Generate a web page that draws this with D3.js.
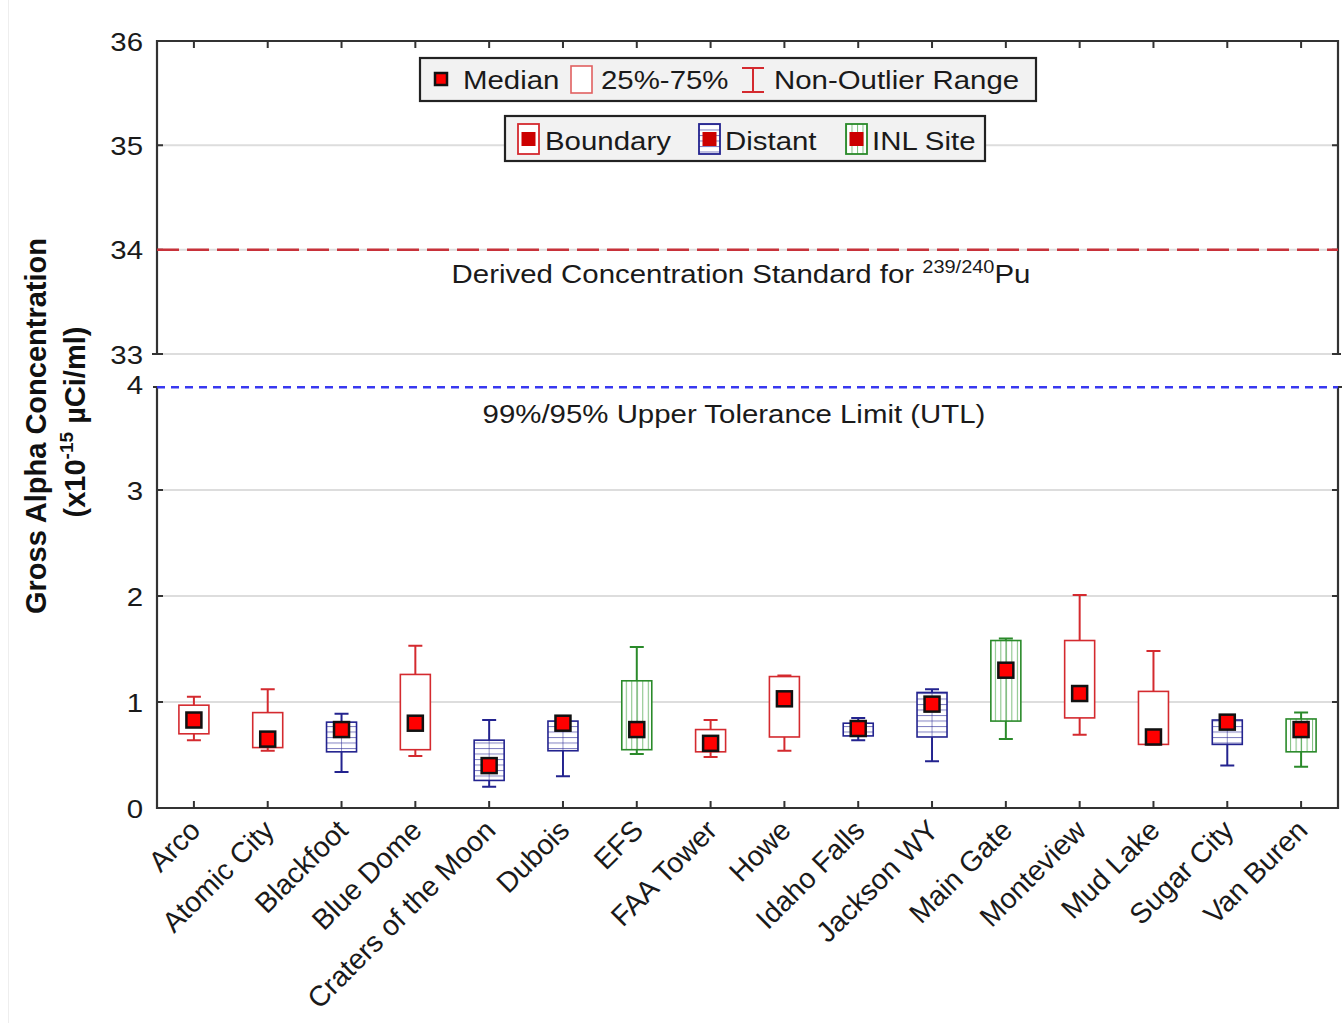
<!DOCTYPE html>
<html>
<head>
<meta charset="utf-8">
<script src="https://cdn.jsdelivr.net/npm/d3@7"></script>
<style>
  body { margin: 0; background: #fff; }
  svg { font-family: "Liberation Sans", Arial, sans-serif; }
</style>
</head>
<body>
<svg id="chart" width="1342" height="1023"></svg>
<script>
// Box plot values
const sites = ['Arco', 'Atomic City', 'Blackfoot', 'Blue Dome', 'Craters of the Moon', 'Dubois', 'EFS',
    'FAA Tower', 'Howe', 'Idaho Falls', 'Jackson WY', 'Main Gate', 'Monteview', 'Mud Lake', 'Sugar City', 'Van Buren'];
const groups = ['Boundary', 'Boundary', 'Distant', 'Boundary', 'Distant', 'Distant', 'INL Site',
    'Boundary', 'Boundary', 'Distant', 'Distant', 'INL Site', 'Boundary', 'Boundary', 'Distant', 'INL Site'];
const whiskerLow  = [0.64, 0.54, 0.34, 0.49, 0.20, 0.30, 0.51, 0.48, 0.54, 0.64, 0.44, 0.65, 0.69, 0.60, 0.40, 0.39];
const q1          = [0.70, 0.57, 0.53, 0.55, 0.26, 0.54, 0.55, 0.53, 0.67, 0.68, 0.67, 0.82, 0.85, 0.60, 0.60, 0.53];
const medians     = [0.83, 0.65, 0.74, 0.80, 0.40, 0.80, 0.74, 0.61, 1.03, 0.75, 0.98, 1.30, 1.08, 0.67, 0.81, 0.74];
const q3          = [0.97, 0.90, 0.81, 1.26, 0.64, 0.82, 1.20, 0.74, 1.24, 0.80, 1.09, 1.58, 1.58, 1.10, 0.83, 0.84];
const whiskerHigh = [1.05, 1.12, 0.89, 1.53, 0.83, 0.82, 1.52, 0.83, 1.25, 0.85, 1.12, 1.60, 2.01, 1.48, 0.83, 0.90];

const upperTicks = [33, 34, 35, 36];
const lowerTicks = [0, 1, 2, 3, 4];
const dcsValue = 34;
const utlValue = 3.97;

const groupNames = ['Boundary', 'Distant', 'INL Site'];
const groupIds = ['boundary', 'distant', 'inl'];
const groupColors = ['#d42a2f', '#23238f', '#2a8a2a'];

const data = sites.map((s, i) => ({
    site: s, group: groups[i],
    lo: whiskerLow[i], q1: q1[i], med: medians[i], q3: q3[i], hi: whiskerHigh[i]
}));

const svg = d3.select('#chart');
const left = 157, right = 1338;
const FS = 26.5, SX = 1.11;   // text looks a bit wide in the source
const color = d3.scaleOrdinal().domain(groupNames).range(groupColors);
const gid = d3.scaleOrdinal().domain(groupNames).range(groupIds);

// hatch patterns for Distant (horizontal) and INL Site (vertical)
const defs = svg.append('defs');
const hp = defs.append('pattern').attr('id', 'hatch-distant')
    .attr('patternUnits', 'userSpaceOnUse').attr('width', 6).attr('height', 5.5);
hp.append('rect').attr('width', 6).attr('height', 5.5).attr('fill', '#fff');
hp.append('line').attr('x1', 0).attr('x2', 6).attr('y1', 0.5).attr('y2', 0.5)
    .attr('stroke', '#7f7fc0').attr('stroke-width', 1);
const vp = defs.append('pattern').attr('id', 'hatch-inl')
    .attr('patternUnits', 'userSpaceOnUse').attr('width', 5.5).attr('height', 6);
vp.append('rect').attr('width', 5.5).attr('height', 6).attr('fill', '#fff');
vp.append('line').attr('y1', 0).attr('y2', 6).attr('x1', 0.5).attr('x2', 0.5)
    .attr('stroke', '#7fbf7f').attr('stroke-width', 1);

function fillFor(g) {
    return g === 'Boundary' ? '#fff' : `url(#hatch-${gid(g)})`;
}

// horizontal text, widened a little
function hText(parent, x, y, anchor, size) {
    return parent.append('text')
        .attr('transform', `translate(${x},${y}) scale(${SX},1)`)
        .attr('text-anchor', anchor).attr('font-size', size || FS).attr('fill', '#1a1a1a');
}

// faint page edge
svg.append('line').attr('x1', 8.5).attr('x2', 8.5).attr('y1', 0).attr('y2', 1023)
    .attr('stroke', '#eeeeee');

const x = d3.scaleBand().domain(sites).range([left, right]).padding(0);
const yTop = d3.scaleLinear().domain([33, 36]).range([354, 41]);
const yBot = d3.scaleLinear().domain([0, 4]).range([808, 384]);

// grid lines
svg.append('g').selectAll('line').data(upperTicks.filter(d => d !== 36)).join('line')
    .attr('x1', left).attr('x2', right).attr('y1', d => yTop(d)).attr('y2', d => yTop(d))
    .attr('stroke', '#dddddd').attr('stroke-width', 2);
svg.append('g').selectAll('line').data(lowerTicks.filter(d => d > 0 && d < 4)).join('line')
    .attr('x1', left).attr('x2', right).attr('y1', d => yBot(d)).attr('y2', d => yBot(d))
    .attr('stroke', '#dddddd').attr('stroke-width', 2);

// axes frames
const axisColor = '#333';
const frame = svg.append('g').attr('stroke', axisColor).attr('stroke-width', 2.2).attr('fill', 'none');
frame.append('path').attr('d', `M${left},${yTop(33)}V${yTop(36)}H${right}V${yTop(33)}`);
frame.append('path').attr('d', `M${left},388V${yBot(0)}H${right}V388`);
// caps at the axis break
frame.append('path').attr('d', `M${left - 5},${yTop(33)}H${left + 6}M${right - 6},${yTop(33)}H${right + 3}`);
frame.append('path').attr('d', `M${left - 4},387H${left + 4}M${right - 4},387H${right + 4}`);

// y ticks (inside)
const tickG = svg.append('g').attr('stroke', axisColor).attr('stroke-width', 2);
tickG.selectAll('.lt').data(upperTicks.slice(1, 3)).join('path')
    .attr('d', d => `M${left},${yTop(d)}h6M${right},${yTop(d)}h-6`);
tickG.selectAll('.lb').data(lowerTicks.slice(1, 4)).join('path')
    .attr('d', d => `M${left},${yBot(d)}h6M${right},${yBot(d)}h-6`);
// category ticks top and bottom
tickG.selectAll('.ct').data(sites).join('path')
    .attr('d', d => {
        const cx = x(d) + x.bandwidth() / 2;
        return `M${cx},${yTop(36)}v7M${cx},${yBot(0)}v-7`;
    });

// y tick labels
const lab = svg.append('g');
upperTicks.forEach(d => hText(lab, 143, yTop(d) + 9.5, 'end').text(d));
lowerTicks.forEach(d => hText(lab, 143, yBot(d) + 9.5, 'end').text(d));

// category labels
svg.append('g').selectAll('text').data(sites).join('text')
    .attr('transform', d => `translate(${x(d) + x.bandwidth() / 2 - 2},${822}) rotate(-45)`)
    .attr('text-anchor', 'end').attr('font-size', 28.5).attr('fill', '#1a1a1a')
    .attr('dy', '0.5em')
    .text(d => d);

// axis title
const title = svg.append('g').attr('font-weight', 'bold').attr('font-size', 29).attr('fill', '#111')
    .attr('text-anchor', 'middle');
title.append('text').attr('transform', 'translate(46,426) rotate(-90)').text('Gross Alpha Concentration');
const t2 = title.append('text').attr('transform', 'translate(85,422) rotate(-90)');
t2.append('tspan').text('(x10');
t2.append('tspan').attr('font-size', 19).attr('dy', -12).text('-15');
t2.append('tspan').attr('dy', 12).text(' \u00b5Ci/ml)');

// reference lines
svg.append('line').attr('x1', left).attr('x2', right).attr('y1', yTop(dcsValue)).attr('y2', yTop(dcsValue))
    .attr('stroke', '#c8323a').attr('stroke-width', 2.5).attr('stroke-dasharray', '22,8');
const dcsText = hText(svg, 741, 283, 'middle');
dcsText.append('tspan').text('Derived Concentration Standard for ');
dcsText.append('tspan').attr('font-size', 18).attr('dy', -10).text('239/240');
dcsText.append('tspan').attr('dy', 10).text('Pu');

svg.append('line').attr('x1', left).attr('x2', right).attr('y1', yBot(utlValue)).attr('y2', yBot(utlValue))
    .attr('stroke', '#3838f0').attr('stroke-width', 2.5).attr('stroke-dasharray', '8,6');
hText(svg, 734, 423, 'middle').text('99%/95% Upper Tolerance Limit (UTL)');

// boxes
const boxW = 30, capW = 14, medS = 15;
const boxes = svg.append('g').selectAll('g').data(data).join('g')
    .attr('transform', d => `translate(${x(d.site) + x.bandwidth() / 2},0)`);
boxes.append('line').attr('y1', d => yBot(d.hi)).attr('y2', d => yBot(d.lo))
    .attr('stroke', d => color(d.group)).attr('stroke-width', 2);
boxes.append('path')
    .attr('d', d => `M${-capW / 2},${yBot(d.hi)}h${capW}M${-capW / 2},${yBot(d.lo)}h${capW}`)
    .attr('stroke', d => color(d.group)).attr('stroke-width', 2);
boxes.append('rect').attr('x', -boxW / 2).attr('width', boxW)
    .attr('y', d => yBot(d.q3)).attr('height', d => yBot(d.q1) - yBot(d.q3))
    .attr('fill', d => fillFor(d.group)).attr('stroke', d => color(d.group)).attr('stroke-width', 1.6);
boxes.filter(d => d.group !== 'Boundary').append('line')
    .attr('y1', d => yBot(d.q3)).attr('y2', d => yBot(d.q1))
    .attr('stroke', d => color(d.group)).attr('stroke-opacity', 0.5).attr('stroke-width', 1);
boxes.append('rect').attr('x', -medS / 2).attr('width', medS)
    .attr('y', d => yBot(d.med) - medS / 2).attr('height', medS)
    .attr('fill', '#ff0000').attr('stroke', '#111').attr('stroke-width', 2.5);

// legend 1
const lg1 = svg.append('g');
lg1.append('rect').attr('x', 420).attr('y', 58).attr('width', 616).attr('height', 43)
    .attr('fill', '#f2f2f2').attr('stroke', '#222').attr('stroke-width', 2.2);
lg1.append('rect').attr('x', 435).attr('y', 73).attr('width', 12).attr('height', 12)
    .attr('fill', '#ff0000').attr('stroke', '#111').attr('stroke-width', 2.5);
lg1.append('rect').attr('x', 571).attr('y', 66).attr('width', 21).attr('height', 27)
    .attr('fill', '#fff').attr('stroke', '#e06060').attr('stroke-width', 1.6);
lg1.append('path').attr('d', 'M742,68h22M753,68V92M742,92h22')
    .attr('stroke', '#d42a2f').attr('stroke-width', 2).attr('fill', 'none');
hText(lg1, 463, 89, 'start').text('Median');
hText(lg1, 601, 89, 'start').text('25%-75%');
hText(lg1, 774, 89, 'start').text('Non-Outlier Range');

// legend 2
const lg2 = svg.append('g');
lg2.append('rect').attr('x', 505).attr('y', 116).attr('width', 480).attr('height', 45)
    .attr('fill', '#f2f2f2').attr('stroke', '#222').attr('stroke-width', 2.2);
const legendX = [518, 699, 846];
const legTextX = [545, 725, 872];
const li = lg2.selectAll('.li').data(groupNames).join('g')
    .attr('transform', (d, i) => `translate(${legendX[i]},124)`);
li.append('rect').attr('width', 21).attr('height', 30)
    .attr('fill', d => fillFor(d)).attr('stroke', d => color(d)).attr('stroke-width', 1.8);
li.append('rect').attr('x', 3.5).attr('y', 8).attr('width', 14).attr('height', 14)
    .attr('fill', '#cc0000');
groupNames.forEach((g, i) => hText(lg2, legTextX[i], 150, 'start').text(g));
</script>
</body>
</html>
